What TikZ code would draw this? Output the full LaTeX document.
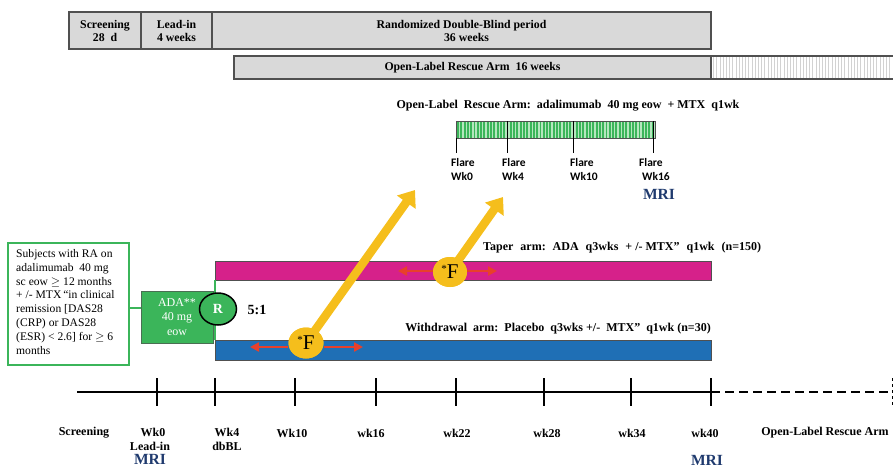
\documentclass[tikz,border=0pt]{standalone}
\usepackage{fontspec}
\setmainfont{Liberation Serif}
\newfontfamily\calfont{Carlito}
\usetikzlibrary{arrows.meta,shapes.geometric}
\definecolor{boxgray}{HTML}{D9D9D9}
\definecolor{edgegray}{HTML}{505050}
\definecolor{adagreen}{HTML}{3BB55A}
\definecolor{lightgreen}{HTML}{B5E6BE}
\definecolor{pinkarm}{HTML}{D6218A}
\definecolor{bluearm}{HTML}{1F6FB5}
\definecolor{flareyellow}{HTML}{F5BE1C}
\definecolor{arrowred}{HTML}{E8402A}
\definecolor{mriblue}{HTML}{1F3A6E}
\tikzset{
  phasebox/.style={draw=edgegray, line width=1.2pt, fill=boxgray, inner sep=0pt, font=\bfseries\fontsize{11.8}{13}\selectfont, align=center},
  lbl/.style={font=\bfseries\fontsize{12}{12}\selectfont, inner sep=0pt},
  flarelbl/.style={font=\calfont\bfseries\fontsize{11.5}{14}\selectfont, inner sep=0pt, align=left, anchor=north west},
  mri/.style={font=\bfseries\fontsize{15.5}{15.5}\selectfont, text=mriblue, inner sep=0pt},
  tick/.style={line width=2.2pt},
  fbubble/.style={ellipse, fill=flareyellow, inner sep=0pt, font=\fontsize{21}{21}\selectfont},
  yarrow/.style={draw=flareyellow, line width=8.5pt, -{Triangle[width=22pt,length=15pt]}},
  rarrow/.style={draw=arrowred, line width=2.4pt, -{Triangle[width=9pt,length=9pt]}},
}
\newcommand{\wg}{\hspace{7pt}}
\begin{document}
\begin{tikzpicture}[x=1pt,y=-1pt]
\useasboundingbox (0,0) rectangle (893,467);
% top phase boxes
\node[phasebox, minimum width=72pt, minimum height=37pt] (scr) at (105,30.5) {Screening\\28\ \ d};
\node[phasebox, minimum width=71pt, minimum height=37pt] (lead) at (176.5,30.5) {Lead-in\\4 weeks};
\node[phasebox, minimum width=499pt, minimum height=37pt] (rdb) at (461.5,30.5) {Randomized Double-Blind period\\\hspace*{10pt}36 weeks};
\node[phasebox, minimum width=477pt, minimum height=23pt] (olr) at (472.5,67.5) {Open-Label Rescue Arm\ \ 16 weeks};
\fill[white] (711,56) rectangle (893,79);
\foreach \x in {713.5,716.7,...,892} \draw[gray!35, line width=0.8pt] (\x,56.5) -- (\x,78.5);
\draw[edgegray, line width=1.2pt] (711,56) -- (893,56) (711,79) -- (893,79) (711,56) -- (711,79);

% open-label rescue arm
\node[lbl, font=\bfseries\fontsize{12}{12}\selectfont] (oltitle) at (568,106) {Open-Label\ \ Rescue\ Arm:\ \ adalimumab\ \ 40\ mg\ eow\ \ +\ MTX\ \ q1wk};
\fill[lightgreen] (456,121) rectangle (655,138);
\foreach \x in {458,461.3,...,654} \draw[adagreen, line width=1.9pt] (\x,121.5) -- (\x,137.5);
\draw[edgegray, line width=0.9pt] (456,121) rectangle (655,138);
\coordinate (f0) at (456,138);
\coordinate (f4) at (507,121);
\coordinate (f10) at (573,121);
\coordinate (f16) at (653,121);
\draw[line width=0.8pt] (f0) -- ++(0,15);
\draw[line width=0.8pt] (f4) -- ++(0,32);
\draw[line width=0.8pt] (f10) -- ++(0,32);
\draw[line width=0.8pt] (f16) -- ++(0,32);
\node[flarelbl] (fl0) at (451,158) {Flare\\Wk0};
\node[flarelbl] (fl4) at (502,158) {Flare\\Wk4};
\node[flarelbl] (fl10) at (570,158) {Flare\\Wk10};
\node[flarelbl] (fl16) at (639,158) {Flare\\\hspace*{3pt}Wk16};
\node[mri] (mri3) at (659,194) {MRI};

% left box
\node[draw=adagreen, line width=2.2pt, minimum width=121pt, minimum height=122pt, inner sep=0pt] (subj) at (68.5,304) {};
\node[anchor=north west, inner sep=0pt, align=left, font=\fontsize{11.6}{13.9}\selectfont] (subjtxt) at (16,249)
 {Subjects with RA on\\adalimumab\ \ 40 mg\\sc eow $\geq$ 12 months\\+ /- MTX\,“in clinical\\remission\ [DAS28\\(CRP) or DAS28\\(ESR) < 2.6] for $\geq$ 6\\months};
\node[fill=adagreen, draw=edgegray!70!adagreen, line width=0.8pt, minimum width=72pt, minimum height=52pt, inner sep=0pt, text=white, align=center, font=\fontsize{12}{14.5}\selectfont] (ada) at (177,317) {ADA**\\40 mg\\eow};
\draw[adagreen, line width=2.2pt] (subj.east |- 0,308) -- (ada.west |- 0,308);

% arms
\node[fill=pinkarm, draw=edgegray, line width=0.6pt, minimum width=496pt, minimum height=19pt, inner sep=0pt] (taper) at (463,270.5) {};
\node[fill=bluearm, draw=edgegray, line width=0.6pt, minimum width=496pt, minimum height=20pt, inner sep=0pt] (wd) at (463,350) {};
\draw[adagreen, line width=2pt] (taper.south west) -- (wd.north west);
\node[ellipse, draw=black, line width=1.5pt, fill=adagreen, minimum width=37pt, minimum height=32pt, inner sep=0pt, text=white, font=\bfseries\fontsize{14}{14}\selectfont] (R) at (218,309) {R};
\node[lbl, font=\bfseries\fontsize{14}{14}\selectfont] (ratio) at (257,310) {5:1};
\node[lbl, anchor=west] (tapertxt) at (483,248) {Taper\wg arm:\wg ADA\wg q3wks\wg +\ /-\ MTX”\wg q1wk\wg (n=150)};
\node[lbl, anchor=east] (wdtxt) at (711,329) {Withdrawal\ \ arm:\ \ Placebo\ \ q3wks +/-\ \ MTX”\ \ q1wk (n=30)};

% flare events
\node[fbubble, minimum width=35pt, minimum height=31pt] (F1) at (306,343) {};
\node[fbubble, minimum width=34pt, minimum height=30pt] (F2) at (450,272) {};
\coordinate (t1) at (415,190);
\coordinate (t2) at (503,197);
\draw[yarrow] (F1.center) -- (t1);
\draw[yarrow] (F2.center) -- (t2);
\node[fbubble, minimum width=35pt, minimum height=31pt] (F1b) at (306,343) {\raisebox{6pt}{\fontsize{11}{11}\selectfont*}F};
\node[fbubble, minimum width=34pt, minimum height=30pt] (F2b) at (450,272) {\raisebox{6pt}{\fontsize{11}{11}\selectfont*}F};
\coordinate (r1l) at (250,347);
\coordinate (r1r) at (363,347);
\coordinate (r2l) at (398,271);
\coordinate (r2r) at (497,271);
\draw[rarrow] (F1b.west |- r1l) -- (r1l);
\draw[rarrow] (F1b.east |- r1r) -- (r1r);
\draw[rarrow] (F2b.west |- r2l) -- (r2l);
\draw[rarrow] (F2b.east |- r2r) -- (r2r);

% timeline
\coordinate (tl0) at (77,392);
\coordinate (tl40) at (711,392);
\coordinate (tlend) at (893,392);
\draw[line width=2.8pt] (tl0) -- (tl40);
\draw[line width=2.8pt, dash pattern=on 9pt off 5pt] (tl40) -- (tlend);
\foreach \x in {157,215,295,376,456,544,631,711} \draw[tick] (\x,378) -- (\x,406);
\draw[line width=0.8pt, dashed] (892,378) -- (892,406);
\node[lbl] (lscr) at (84,433) {Screening};
\node[lbl, align=center, font=\bfseries\fontsize{12}{14}\selectfont, anchor=north] (l0) at (150,428) {\hspace*{6pt}Wk0\\Lead-in};
\node[lbl, align=center, font=\bfseries\fontsize{12}{14}\selectfont, anchor=north] (l4) at (227,428) {Wk4\\dbBL};
\node[lbl] (l10) at (292,433) {Wk10};
\node[lbl] (l16) at (371,433) {wk16};
\node[lbl] (l22) at (457,433) {wk22};
\node[lbl] (l28) at (547,433) {wk28};
\node[lbl] (l34) at (632,433) {wk34};
\node[lbl] (l40) at (705,433) {wk40};
\node[lbl] (lol) at (825,433) {Open-Label Rescue Arm};
\node[mri] (mri1) at (150,459) {MRI};
\node[mri] (mri2) at (707,460) {MRI};
\end{tikzpicture}
\end{document}
